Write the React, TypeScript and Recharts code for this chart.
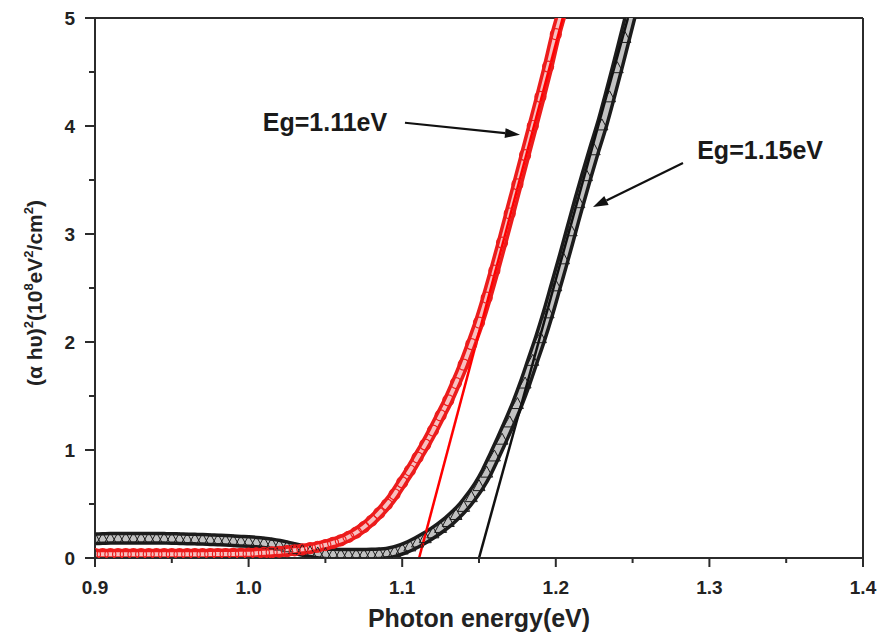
import React from 'react';
import { ComposedChart, Line, XAxis, YAxis, ReferenceLine, ReferenceDot, Label } from 'recharts';

document.body.style.margin = '0';

const FONT = 'Arial, "Liberation Sans", Helvetica, sans-serif';
const AXIS = '#2b2b2b';
const RED = '#ec1c1c';
const BLACK = '#1c1c1c';

// photon energy (eV)
const energy = [
  0.900, 0.905, 0.910, 0.915, 0.920, 0.925, 0.930, 0.935, 0.940, 0.945,
  0.950, 0.955, 0.960, 0.965, 0.970, 0.975, 0.980, 0.985, 0.990, 0.995,
  1.000, 1.005, 1.010, 1.015, 1.020, 1.025, 1.030, 1.035, 1.040, 1.045,
  1.050, 1.055, 1.060, 1.065, 1.070, 1.075, 1.080, 1.085, 1.090, 1.095,
  1.100, 1.105, 1.110, 1.115, 1.120, 1.125, 1.130, 1.135, 1.140, 1.145,
  1.150, 1.155, 1.160, 1.165, 1.170, 1.175, 1.180, 1.185, 1.190, 1.195,
  1.200, 1.205, 1.210, 1.215, 1.220, 1.225, 1.230, 1.235, 1.240, 1.245,
  1.250,
];

// (alpha h nu)^2, red circles (Eg = 1.11 eV)
const redCircles = [
  0.035, 0.035, 0.035, 0.035, 0.035, 0.035, 0.035, 0.035, 0.035, 0.035,
  0.035, 0.035, 0.035, 0.035, 0.035, 0.036, 0.036, 0.037, 0.038, 0.039,
  0.040, 0.044, 0.048, 0.053, 0.058, 0.064, 0.071, 0.080, 0.091, 0.104,
  0.120, 0.140, 0.163, 0.195, 0.235, 0.285, 0.345, 0.415, 0.495, 0.590,
  0.700, 0.810, 0.930, 1.050, 1.180, 1.320, 1.460, 1.620, 1.790, 1.980,
  2.180, 2.410, 2.660, 2.920, 3.190, 3.460, 3.730, 4.000, 4.270, 4.550,
  4.850, 5.100, null, null, null, null, null, null, null, null,
  null,
];

// (alpha h nu)^2, black triangles (Eg = 1.15 eV)
const blackTriangles = [
  0.178, 0.180, 0.182, 0.183, 0.184, 0.184, 0.184, 0.184, 0.183, 0.182,
  0.181, 0.179, 0.177, 0.175, 0.173, 0.170, 0.167, 0.164, 0.160, 0.156,
  0.152, 0.147, 0.140, 0.131, 0.119, 0.104, 0.087, 0.071, 0.057, 0.047,
  0.040, 0.037, 0.035, 0.034, 0.034, 0.035, 0.036, 0.039, 0.045, 0.060,
  0.083, 0.112, 0.148, 0.188, 0.233, 0.283, 0.338, 0.403, 0.478, 0.568,
  0.670, 0.795, 0.945, 1.100, 1.260, 1.430, 1.620, 1.830, 2.040, 2.270,
  2.520, 2.770, 3.030, 3.290, 3.540, 3.780, 4.010, 4.270, 4.540, 4.820,
  5.100,
];

// linear extrapolation lines
const redFitEnergy = [1.111, 1.2045];
const redFitValue = [0, 5];
const blackFitEnergy = [1.150, 1.247];
const blackFitValue = [0, 5];

const xTicks = [0.9, 0.95, 1.0, 1.05, 1.1, 1.15, 1.2, 1.25, 1.3, 1.35, 1.4];
const yTicks = [0, 0.5, 1, 1.5, 2, 2.5, 3, 3.5, 4, 4.5, 5];

const data = energy.map((e, i) => ({ e, red: redCircles[i], black: blackTriangles[i] }));
const redFit = redFitEnergy.map((e, i) => ({ e, fit: redFitValue[i] }));
const blackFit = blackFitEnergy.map((e, i) => ({ e, fit: blackFitValue[i] }));

const isMajorX = (v: number) => Math.abs(v * 10 - Math.round(v * 10)) < 1e-6;
const isMajorY = (v: number) => Math.abs(v - Math.round(v)) < 1e-6;

const XTick = (props: any) => {
  const { x, y, payload } = props;
  const major = isMajorX(payload.value);
  return (
    <g>
      <line x1={x} y1={y} x2={x} y2={y + (major ? 9 : 5)} stroke={AXIS} strokeWidth={2} />
      {major && (
        <text x={x} y={y + 36} textAnchor="middle" fontFamily={FONT} fontWeight="bold" fontSize={19} fill="#222">
          {payload.value.toFixed(1)}
        </text>
      )}
    </g>
  );
};

const YTick = (props: any) => {
  const { x, y, payload } = props;
  const major = isMajorY(payload.value);
  return (
    <g>
      <line x1={x} y1={y} x2={x - (major ? 10 : 6)} y2={y} stroke={AXIS} strokeWidth={2} />
      {major && (
        <text x={x - 20} y={y + 7} textAnchor="end" fontFamily={FONT} fontWeight="bold" fontSize={19} fill="#222">
          {String(payload.value)}
        </text>
      )}
    </g>
  );
};

const YTitle = (props: any) => {
  const vb = props.viewBox || { x: 0, y: 18, width: 95, height: 540 };
  const x = vb.x + 42;
  const y = vb.y + vb.height / 2 + 5;
  const sup = { fontSize: 13 };
  return (
    <text x={x} y={y} textAnchor="middle" transform={`rotate(-90, ${x}, ${y})`} fontFamily={FONT} fontWeight="bold" fontSize={21} fill="#222">
      <tspan>(α hυ)</tspan>
      <tspan dy={-9} {...sup}>2</tspan>
      <tspan dy={9}>(10</tspan>
      <tspan dy={-9} {...sup}>8</tspan>
      <tspan dy={9}>eV</tspan>
      <tspan dy={-9} {...sup}>2</tspan>
      <tspan dy={9}>/cm</tspan>
      <tspan dy={-9} {...sup}>2</tspan>
      <tspan dy={9}>)</tspan>
    </text>
  );
};

const XTitle = (props: any) => {
  const vb = props.viewBox || { x: 95, y: 558, width: 768, height: 76 };
  return (
    <text x={vb.x + vb.width / 2} y={vb.y + 69} textAnchor="middle" fontFamily={FONT} fontWeight="bold" fontSize={25} fill="#222">
      Photon energy(eV)
    </text>
  );
};

const Arrow = (props: any) => {
  const { x1, y1, x2, y2 } = props;
  if (x1 == null || x2 == null) return <g />;
  const ang = Math.atan2(y2 - y1, x2 - x1);
  const L = 15;
  const W = 5;
  const bx = x2 - L * Math.cos(ang);
  const by = y2 - L * Math.sin(ang);
  const pts = [
    `${x2},${y2}`,
    `${bx + W * Math.sin(ang)},${by - W * Math.cos(ang)}`,
    `${bx - W * Math.sin(ang)},${by + W * Math.cos(ang)}`,
  ].join(' ');
  return (
    <g>
      <line x1={x1} y1={y1} x2={bx} y2={by} stroke="#111" strokeWidth={2.2} />
      <polygon points={pts} fill="#111" />
    </g>
  );
};

const Circle = (props: any) => {
  const { cx, cy, index } = props;
  if (cx == null || cy == null) return <g key={`rc-${index}`} />;
  return <circle key={`rc-${index}`} cx={cx} cy={cy} r={5.5} fill="none" stroke={RED} strokeWidth={1.2} />;
};

const Triangle = (props: any) => {
  const { cx, cy, index } = props;
  if (cx == null || cy == null) return <g key={`bt-${index}`} />;
  const p = `${cx},${cy - 6} ${cx - 6},${cy + 5} ${cx + 6},${cy + 5}`;
  return <polygon key={`bt-${index}`} points={p} fill="none" stroke={BLACK} strokeWidth={1} />;
};

const labelStyle = { fontFamily: FONT, fontWeight: 'bold', fontSize: 25, fill: '#1a1a1a' };

export default function App() {
  return (
    <div style={{ width: 877, height: 634, background: '#fff', overflow: 'hidden' }}>
      <ComposedChart width={877} height={634} data={data} margin={{ top: 18, right: 14, bottom: 0, left: 0 }}>
        <XAxis
          dataKey="e"
          type="number"
          domain={[0.9, 1.4]}
          ticks={xTicks}
          interval={0}
          height={76}
          tickSize={0}
          tickMargin={0}
          tickLine={false}
          tick={<XTick />}
          axisLine={{ stroke: AXIS, strokeWidth: 2 }}
          allowDataOverflow
        >
          <Label content={<XTitle />} />
        </XAxis>
        <YAxis
          type="number"
          domain={[0, 5]}
          ticks={yTicks}
          interval={0}
          width={95}
          tickSize={0}
          tickMargin={0}
          tickLine={false}
          tick={<YTick />}
          axisLine={{ stroke: AXIS, strokeWidth: 2 }}
          allowDataOverflow
        >
          <Label content={<YTitle />} />
        </YAxis>

        <ReferenceLine y={5} stroke={AXIS} strokeWidth={2} />
        <ReferenceLine x={1.4} stroke={AXIS} strokeWidth={2} />

        <Line dataKey="black" type="monotone" stroke={BLACK} strokeWidth={13} dot={false} isAnimationActive={false} />
        <Line dataKey="black" type="monotone" stroke="#c2c2c2" strokeWidth={6} dot={false} isAnimationActive={false} />
        <Line dataKey="black" type="monotone" stroke="none" dot={<Triangle />} isAnimationActive={false} />

        <Line dataKey="red" type="monotone" stroke={RED} strokeWidth={11} dot={false} isAnimationActive={false} />
        <Line dataKey="red" type="monotone" stroke="#f8c0c0" strokeWidth={4} dot={false} isAnimationActive={false} />
        <Line dataKey="red" type="monotone" stroke="none" dot={<Circle />} isAnimationActive={false} />

        <Line data={blackFit} dataKey="fit" type="linear" stroke="#111" strokeWidth={2.5} dot={false} isAnimationActive={false} />
        <Line data={redFit} dataKey="fit" type="linear" stroke="#ff0000" strokeWidth={2.5} dot={false} isAnimationActive={false} />

        <ReferenceLine segment={[{ x: 1.1018, y: 4.03 }, { x: 1.1767, y: 3.92 }]} shape={<Arrow />} />
        <ReferenceLine segment={[{ x: 1.2828, y: 3.657 }, { x: 1.2242, y: 3.25 }]} shape={<Arrow />} />

        <ReferenceDot x={1.0497} y={4.04} r={0} fill="none" stroke="none" label={{ value: 'Eg=1.11eV', position: 'center', ...labelStyle }} />
        <ReferenceDot x={1.333} y={3.78} r={0} fill="none" stroke="none" label={{ value: 'Eg=1.15eV', position: 'center', ...labelStyle }} />
      </ComposedChart>
    </div>
  );
}
